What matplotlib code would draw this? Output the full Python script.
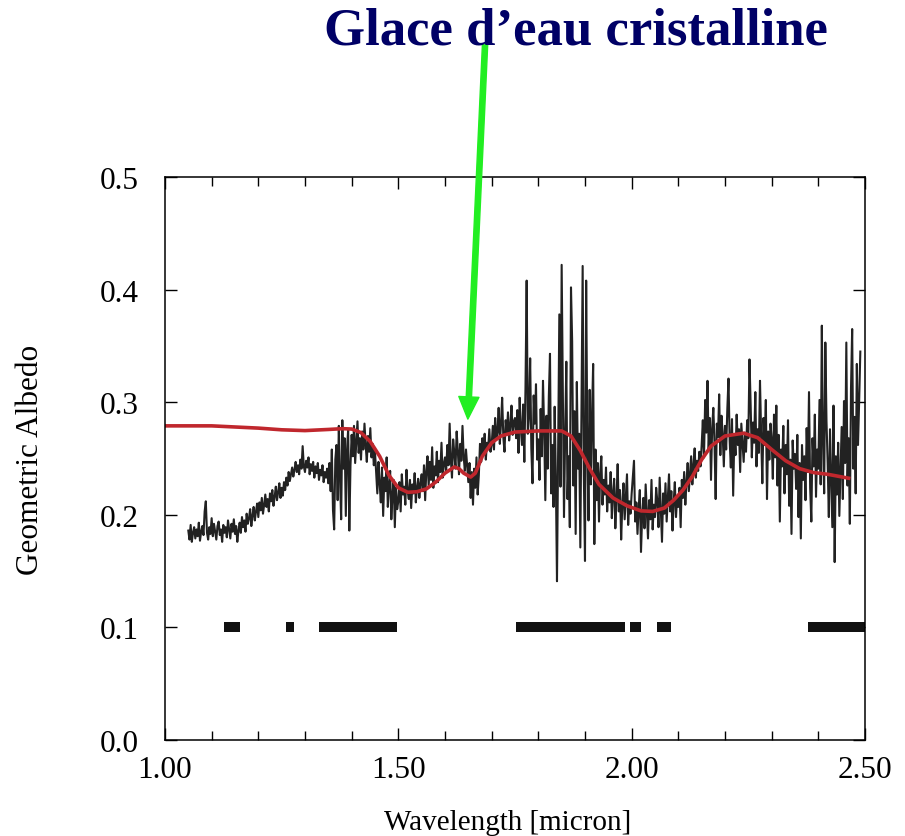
import numpy as np
import matplotlib
matplotlib.use('Agg')
from matplotlib import pyplot as plt

plt.rcParams['font.family'] = ['Liberation Serif', 'DejaVu Serif']

# observed spectrum, one value every 0.0025 micron from 1.050 to 2.490
wl_start = 1.05
wl_step = 0.0025
albedo = [
    0.186, 0.178, 0.191, 0.176, 0.184, 0.189, 0.179, 0.187, 0.181, 0.193, 0.177, 0.185, 0.190, 0.182, 0.203, 0.212, 0.184, 0.178, 0.189, 0.183,
    0.197, 0.181, 0.192, 0.185, 0.178, 0.190, 0.194, 0.182, 0.187, 0.176, 0.191, 0.184, 0.189, 0.180, 0.195, 0.187, 0.179, 0.192, 0.185, 0.196,
    0.183, 0.190, 0.176, 0.186, 0.193, 0.184, 0.198, 0.189, 0.195, 0.185, 0.201, 0.192, 0.197, 0.205, 0.190, 0.199, 0.207, 0.195, 0.203, 0.210,
    0.198, 0.211, 0.204, 0.215, 0.201, 0.209, 0.218, 0.207, 0.214, 0.203, 0.219, 0.212, 0.222, 0.208, 0.216, 0.225, 0.213, 0.220, 0.228, 0.215,
    0.224, 0.217, 0.229, 0.222, 0.233, 0.226, 0.238, 0.230, 0.236, 0.242, 0.234, 0.240, 0.247, 0.238, 0.244, 0.236, 0.249, 0.241, 0.261, 0.243,
    0.238, 0.248, 0.242, 0.251, 0.236, 0.245, 0.239, 0.247, 0.233, 0.243, 0.237, 0.246, 0.231, 0.240, 0.235, 0.244, 0.229, 0.238, 0.233, 0.241,
    0.228, 0.246, 0.221, 0.258, 0.204, 0.187, 0.249, 0.262, 0.213, 0.279, 0.232, 0.196, 0.284, 0.241, 0.268, 0.199, 0.257, 0.276, 0.186, 0.244,
    0.271, 0.252, 0.279, 0.246, 0.265, 0.283, 0.255, 0.268, 0.249, 0.274, 0.258, 0.281, 0.262, 0.247, 0.270, 0.256, 0.277, 0.251, 0.263, 0.244,
    0.256, 0.238, 0.219, 0.247, 0.228, 0.211, 0.242, 0.199, 0.233, 0.221, 0.251, 0.207, 0.226, 0.239, 0.196, 0.218, 0.231, 0.189, 0.224, 0.205,
    0.212, 0.229, 0.203, 0.236, 0.218, 0.225, 0.209, 0.240, 0.221, 0.214, 0.231, 0.206, 0.227, 0.219, 0.237, 0.211, 0.224, 0.232, 0.215, 0.228,
    0.236, 0.221, 0.244, 0.213, 0.239, 0.252, 0.226, 0.247, 0.231, 0.260, 0.224, 0.243, 0.235, 0.256, 0.229, 0.248, 0.238, 0.264, 0.233, 0.245,
    0.251, 0.238, 0.262, 0.244, 0.281, 0.249, 0.233, 0.267, 0.255, 0.241, 0.274, 0.257, 0.236, 0.263, 0.248, 0.279, 0.252, 0.239, 0.258, 0.244,
    0.229, 0.246, 0.215, 0.238, 0.209, 0.241, 0.224, 0.251, 0.218, 0.235, 0.263, 0.247, 0.268, 0.254, 0.272, 0.249, 0.264, 0.258, 0.276, 0.256,
    0.262, 0.279, 0.258, 0.286, 0.267, 0.274, 0.295, 0.263, 0.281, 0.304, 0.269, 0.256, 0.284, 0.273, 0.291, 0.266, 0.279, 0.297, 0.271, 0.283,
    0.286, 0.268, 0.293, 0.255, 0.304, 0.276, 0.262, 0.298, 0.247, 0.313, 0.408, 0.272, 0.287, 0.339, 0.259, 0.228, 0.306, 0.281, 0.316, 0.249,
    0.267, 0.231, 0.294, 0.252, 0.319, 0.276, 0.213, 0.288, 0.241, 0.305, 0.343, 0.219, 0.262, 0.207, 0.296, 0.234, 0.141, 0.264, 0.378, 0.225,
    0.422, 0.312, 0.198, 0.271, 0.336, 0.214, 0.252, 0.189, 0.402, 0.354, 0.226, 0.292, 0.183, 0.318, 0.241, 0.272, 0.171, 0.299, 0.421, 0.236,
    0.159, 0.408, 0.264, 0.195, 0.311, 0.227, 0.289, 0.334, 0.174, 0.258, 0.213, 0.246, 0.194, 0.237, 0.252, 0.209, 0.231, 0.218, 0.242, 0.203,
    0.226, 0.211, 0.238, 0.197, 0.219, 0.232, 0.188, 0.214, 0.245, 0.203, 0.222, 0.178, 0.209, 0.228, 0.196, 0.217, 0.236, 0.191, 0.212, 0.201,
    0.219, 0.234, 0.248, 0.194, 0.211, 0.183, 0.206, 0.222, 0.167, 0.199, 0.215, 0.188, 0.227, 0.204, 0.179, 0.213, 0.196, 0.231, 0.187, 0.209,
    0.198, 0.224, 0.212, 0.189, 0.233, 0.205, 0.176, 0.219, 0.201, 0.228, 0.194, 0.215, 0.236, 0.203, 0.221, 0.186, 0.211, 0.229, 0.198, 0.216,
    0.207, 0.224, 0.189, 0.231, 0.215, 0.238, 0.209, 0.229, 0.246, 0.221, 0.236, 0.252, 0.227, 0.244, 0.259, 0.233, 0.248, 0.239, 0.256, 0.243,
    0.262, 0.284, 0.251, 0.302, 0.273, 0.319, 0.258, 0.286, 0.231, 0.277, 0.295, 0.264, 0.214, 0.281, 0.269, 0.307, 0.253, 0.288, 0.272, 0.243,
    0.279, 0.258, 0.294, 0.321, 0.266, 0.242, 0.285, 0.217, 0.271, 0.253, 0.289, 0.262, 0.276, 0.238, 0.281, 0.264, 0.247, 0.273, 0.256, 0.284,
    0.268, 0.338, 0.297, 0.251, 0.282, 0.264, 0.309, 0.243, 0.276, 0.255, 0.319, 0.271, 0.228, 0.286, 0.262, 0.302, 0.214, 0.274, 0.249, 0.281,
    0.267, 0.232, 0.289, 0.251, 0.297, 0.226, 0.271, 0.194, 0.258, 0.243, 0.279, 0.219, 0.262, 0.236, 0.284, 0.208, 0.249, 0.183, 0.266, 0.241,
    0.254, 0.223, 0.271, 0.198, 0.246, 0.179, 0.262, 0.231, 0.252, 0.213, 0.277, 0.238, 0.309, 0.224, 0.194, 0.268, 0.243, 0.289, 0.216, 0.258,
    0.241, 0.302, 0.227, 0.368, 0.264, 0.219, 0.353, 0.283, 0.246, 0.198, 0.276, 0.231, 0.189, 0.297, 0.158, 0.252, 0.218, 0.264, 0.199, 0.237,
    0.278, 0.214, 0.301, 0.246, 0.353, 0.226, 0.268, 0.192, 0.312, 0.365, 0.241, 0.287, 0.219, 0.334, 0.262, 0.301, 0.345,
]
wavelength = wl_start + wl_step * np.arange(len(albedo))

# model fit (red curve)
model_wl = [1.00, 1.05, 1.10, 1.15, 1.20, 1.25, 1.30, 1.35, 1.38, 1.40,
            1.42, 1.44, 1.46, 1.48, 1.50, 1.52, 1.54, 1.56, 1.58, 1.60,
            1.62, 1.63, 1.64, 1.655, 1.665, 1.68, 1.70, 1.72, 1.75, 1.80,
            1.85, 1.87, 1.89, 1.91, 1.93, 1.96, 1.99, 2.02, 2.045, 2.07,
            2.09, 2.11, 2.13, 2.15, 2.17, 2.20, 2.24, 2.27, 2.30, 2.33,
            2.36, 2.39, 2.42, 2.465]
model_alb = [0.279, 0.279, 0.279, 0.278, 0.277, 0.2755, 0.2748, 0.2758, 0.2765, 0.2762,
             0.273, 0.265, 0.252, 0.235, 0.224, 0.220, 0.2205, 0.223, 0.229, 0.237,
             0.2425, 0.241, 0.237, 0.2335, 0.237, 0.252, 0.264, 0.270, 0.2735, 0.2745,
             0.2745, 0.270, 0.257, 0.241, 0.227, 0.215, 0.208, 0.2035, 0.203, 0.206,
             0.213, 0.222, 0.234, 0.249, 0.261, 0.270, 0.2725, 0.2685, 0.258, 0.248,
             0.241, 0.2375, 0.236, 0.2325]

# telluric bands marked at 0.1
band_start = [1.126, 1.259, 1.330, 1.752, 1.996, 2.054, 2.378]
band_end = [1.161, 1.276, 1.497, 1.986, 2.020, 2.084, 2.500]
band_level = 0.1

xticks = [1.00, 1.50, 2.00, 2.50]
yticks = [0.0, 0.1, 0.2, 0.3, 0.4, 0.5]

fig = plt.figure(figsize=(9.05, 8.37), dpi=100)
ax = fig.add_axes([0.1823, 0.1147, 0.7735, 0.6726])

ax.plot(wavelength, albedo, color='#222222', lw=1.5)
ax.plot(model_wl, model_alb, color='#c0272d', lw=2.6)
ax.hlines([band_level] * len(band_start), band_start, band_end,
          color='#111111', lw=7.2, capstyle='butt')

ax.set_xlim(1.0, 2.5)
ax.set_ylim(0.0, 0.5)
ax.set_xticks(xticks)
ax.set_xticklabels(['%.2f' % v for v in xticks])
ax.set_xticks(np.arange(1.0, 2.5, 0.1), minor=True)
ax.set_yticks(yticks)
ax.set_yticklabels(['%.1f' % v for v in yticks])
ax.tick_params(which='both', direction='in', top=True, right=True, width=1.0)
ax.tick_params(which='major', length=8.5, labelsize=22.5)
ax.tick_params(which='minor', length=6.5)
ax.tick_params(axis='x', pad=11)
ax.tick_params(axis='y', pad=19)
for s in ax.spines.values():
    s.set_linewidth(1.1)

ax.set_xlabel('Wavelength [micron]', fontsize=21)
ax.set_ylabel('Geometric Albedo', fontsize=22.5)
ax.xaxis.set_label_coords(0.49, -0.122)
ax.yaxis.set_label_coords(-0.172, 0.5)

fig.text(0.636, 0.962, 'Glace d\u2019eau cristalline', fontsize=38,
         fontweight='bold', color='#000066', ha='center', va='center')

ax.annotate('', xy=(1.649, 0.285), xycoords='data',
            xytext=(0.536, 0.946), textcoords='figure fraction',
            arrowprops=dict(arrowstyle='simple,head_width=1.45,head_length=1.6,tail_width=0.38',
                            mutation_scale=10, color='#22ee22', shrinkA=0, shrinkB=0),
            annotation_clip=False)

fig.savefig('out.png', dpi=100)
